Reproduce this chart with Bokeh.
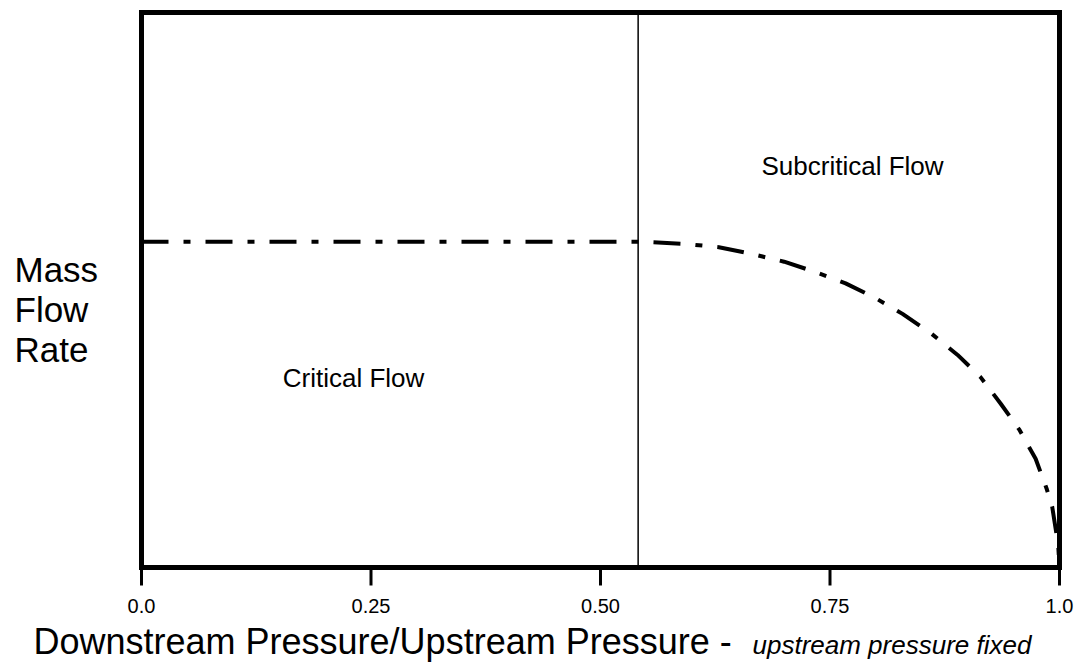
from bokeh.plotting import figure
from bokeh.models import Range1d
from bokeh.core.properties import value
from bokeh.embed import file_html
from bokeh.resources import INLINE

# ---- data ----
CRITICAL_RATIO = 0.541
FLOW_X = [0.0, 0.541, 0.556, 0.593, 0.629, 0.662, 0.700, 0.733, 0.767, 0.800, 0.829,
          0.860, 0.889, 0.914, 0.936, 0.956, 0.974, 0.986, 0.992, 0.9986, 1.0]
FLOW_Y = [0.587, 0.587, 0.586, 0.583, 0.577, 0.566, 0.551, 0.533, 0.512, 0.485, 0.457,
          0.422, 0.383, 0.343, 0.295, 0.249, 0.196, 0.142, 0.110, 0.040, 0.0]
TICKS = [0.0, 0.25, 0.5, 0.75, 1.0]
TICK_LABELS = ["0.0", "0.25", "0.50", "0.75", "1.0"]
Y_LABEL_LINES = ["Mass", "Flow", "Rate"]
X_TITLE = "Downstream Pressure/Upstream Pressure - "
X_SUBTITLE = "upstream pressure fixed"

# ---- layout (pixels of the 1076x670 canvas) ----
W, H = 1076, 670
L, R, T, B = 141, 1059, 12, 567
SX = R - L
SY = B - T

def dx(px):
    return (px - L) / SX

def dy(py):
    return (B - py) / SY

p = figure(width=W, height=H, output_backend="svg", toolbar_location=None,
           x_range=Range1d(dx(0), dx(W)), y_range=Range1d(dy(H), dy(0)),
           min_border=0)
p.grid.visible = False
p.xaxis.visible = False
p.yaxis.visible = False
p.outline_line_color = None
p.background_fill_color = "white"
p.border_fill_color = "white"

FONT = value("Liberation Sans")
BASE_SHIFT = 0.39  # empirical offset so the glyph baseline lands on the target pixel

def base_y(py, size_px):
    return dy(py - BASE_SHIFT * size_px)

# plot box
p.quad(left=[0], right=[1], bottom=[0], top=[1], fill_color=None,
       line_color="black", line_width=5, line_join="miter")

# x ticks and labels
p.segment(x0=TICKS, y0=[0] * len(TICKS), x1=TICKS, y1=[dy(B + 18)] * len(TICKS),
          line_color="black", line_width=3)
p.text(x=TICKS, y=[base_y(613, 20)] * len(TICKS), text=TICK_LABELS, text_font=FONT,
       text_font_size="20px", text_align="center", text_baseline="alphabetic",
       text_color="black")

# vertical divider at critical pressure ratio
p.line([CRITICAL_RATIO, CRITICAL_RATIO], [0, 1], line_color="black", line_width=1.5)

# mass flow curve
p.line(FLOW_X, FLOW_Y, line_color="black", line_width=4, line_dash="27 15 7 15",
       line_cap="butt", line_join="round")

def lab(text, px, py, size, align="left", style="normal"):
    p.text(x=[dx(px)], y=[base_y(py, size)], text=[text], text_font=FONT,
           text_font_size=f"{size}px", text_align=align, text_baseline="alphabetic",
           text_color="black", text_font_style=style)

lab("Subcritical Flow", 852, 176, 26, "center")
lab("Critical Flow", 353, 388, 26, "center")
for i, line in enumerate(Y_LABEL_LINES):
    lab(line, 14, 283 + 40 * i, 35)
lab(X_TITLE, 33, 655, 36)
lab(X_SUBTITLE, 752, 655, 26, style="italic")

open("out.html", "w").write(file_html(p, INLINE))
